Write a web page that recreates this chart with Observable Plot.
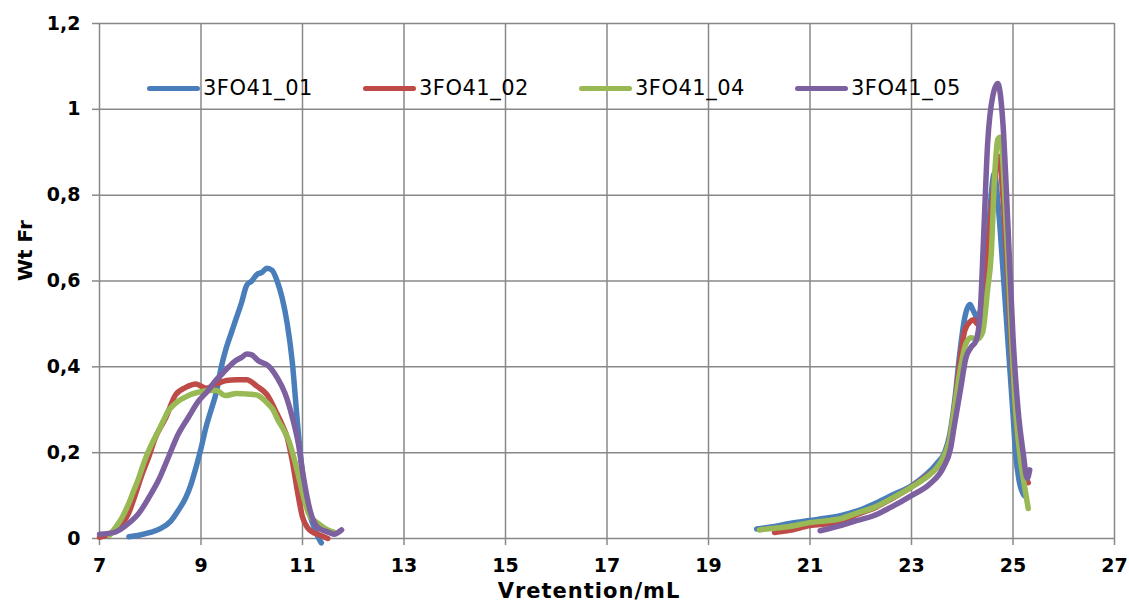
<!DOCTYPE html>
<html>
<head>
<meta charset="utf-8">
<script src="https://cdn.jsdelivr.net/npm/d3@7"></script>
<script src="https://cdn.jsdelivr.net/npm/@observablehq/plot@0.6"></script>
<style>
  html, body { margin: 0; padding: 0; background: #fff; }
  #wrap { position: relative; width: 1129px; height: 603px; font-family: "DejaVu Sans", sans-serif; }
  #legend { position: absolute; left: 147px; top: 76px; display: flex; }
  .item { width: 216px; display: flex; align-items: center; height: 24px; }
  .swatch { width: 53px; height: 5px; border-radius: 3px; margin-right: 3px; }
  .lab { font-size: 21px; color: #000; letter-spacing: 0.5px; }
</style>
</head>
<body>
<div id="wrap"><div id="legend"></div></div>
<script>
// ---- data ----
const seriesNames = ["3FO41_01", "3FO41_02", "3FO41_04", "3FO41_05"];
const seriesColors = ["#4A7EBB", "#BE4B48", "#98B954", "#7D60A0"];
const xTicks = [7, 9, 11, 13, 15, 17, 19, 21, 23, 25, 27];
const yTicks = [0, 0.2, 0.4, 0.6, 0.8, 1, 1.2];
const xLabel = "Vretention/mL";
const yLabel = "Wt Fr";

// 3FO41_01 (blue)
const s01aX = [7.58, 7.8, 8.0, 8.2, 8.4, 8.55, 8.7, 8.8, 8.9, 9.0, 9.1, 9.2, 9.3, 9.4, 9.5, 9.6, 9.7, 9.8, 9.9, 10.0, 10.1, 10.2, 10.3, 10.4, 10.5, 10.6, 10.7, 10.8, 10.9, 11.0, 11.1, 11.2, 11.3, 11.37];
const s01aY = [0.004, 0.008, 0.014, 0.023, 0.04, 0.065, 0.095, 0.125, 0.165, 0.21, 0.26, 0.3, 0.34, 0.4, 0.445, 0.48, 0.515, 0.55, 0.59, 0.6, 0.615, 0.62, 0.63, 0.625, 0.6, 0.56, 0.5, 0.41, 0.27, 0.15, 0.075, 0.035, 0.005, -0.01];
const s01bX = [19.95, 20.3, 20.6, 21.0, 21.3, 21.6, 21.9, 22.25, 22.6, 23.0, 23.3, 23.5, 23.65, 23.75, 23.85, 23.95, 24.05, 24.15, 24.22, 24.3, 24.4, 24.5, 24.57, 24.63, 24.72, 24.8, 24.9, 25.0, 25.05, 25.12, 25.22];
const s01bY = [0.022, 0.028, 0.035, 0.042, 0.047, 0.053, 0.063, 0.08, 0.1, 0.123, 0.15, 0.175, 0.2, 0.24, 0.32, 0.43, 0.515, 0.545, 0.53, 0.515, 0.56, 0.68, 0.8, 0.85, 0.76, 0.63, 0.46, 0.29, 0.2, 0.135, 0.1];

// 3FO41_02 (red)
const s02aX = [7.0, 7.15, 7.3, 7.45, 7.57, 7.7, 7.84, 7.97, 8.1, 8.3, 8.5, 8.7, 8.9, 9.1, 9.3, 9.5, 9.7, 9.9, 10.1, 10.3, 10.5, 10.6, 10.7, 10.8, 10.9, 11.0, 11.1, 11.2, 11.3, 11.4, 11.5];
const s02aY = [0.003, 0.008, 0.018, 0.035, 0.058, 0.1, 0.15, 0.19, 0.235, 0.28, 0.335, 0.352, 0.36, 0.35, 0.36, 0.368, 0.37, 0.37, 0.355, 0.335, 0.29, 0.265, 0.235, 0.18, 0.11, 0.05, 0.025, 0.015, 0.01, 0.005, 0.0];
const s02bX = [20.3, 20.6, 21.0, 21.3, 21.6, 21.9, 22.25, 22.6, 23.0, 23.3, 23.5, 23.65, 23.75, 23.85, 23.95, 24.05, 24.15, 24.22, 24.3, 24.4, 24.5, 24.6, 24.72, 24.8, 24.9, 25.0, 25.1, 25.2, 25.3];
const s02bY = [0.014, 0.019, 0.03, 0.034, 0.038, 0.055, 0.07, 0.092, 0.12, 0.145, 0.165, 0.19, 0.23, 0.31, 0.41, 0.485, 0.505, 0.51, 0.5, 0.55, 0.66, 0.8, 0.89, 0.8, 0.6, 0.38, 0.23, 0.16, 0.13];

// 3FO41_04 (green)
const s04aX = [7.2, 7.31, 7.45, 7.57, 7.67, 7.77, 7.87, 7.97, 8.07, 8.16, 8.26, 8.36, 8.45, 8.55, 8.7, 8.83, 9.0, 9.14, 9.3, 9.48, 9.7, 9.87, 10.0, 10.13, 10.25, 10.32, 10.42, 10.52, 10.62, 10.73, 10.86, 10.99, 11.12, 11.2, 11.31, 11.5, 11.62];
const s04aY = [0.008, 0.025, 0.05, 0.08, 0.11, 0.14, 0.175, 0.205, 0.23, 0.25, 0.275, 0.298, 0.31, 0.32, 0.33, 0.337, 0.342, 0.345, 0.345, 0.333, 0.338, 0.337, 0.336, 0.333, 0.322, 0.314, 0.3, 0.275, 0.255, 0.228, 0.175, 0.112, 0.058, 0.045, 0.035, 0.02, 0.015];
const s04bX = [20.0, 20.3, 20.6, 21.0, 21.3, 21.6, 21.9, 22.25, 22.6, 23.0, 23.37, 23.5, 23.63, 23.75, 23.84, 23.97, 24.07, 24.17, 24.3, 24.4, 24.5, 24.57, 24.64, 24.7, 24.75, 24.85, 24.95, 25.05, 25.15, 25.23, 25.3];
const s04bY = [0.02, 0.024, 0.028, 0.037, 0.041, 0.046, 0.058, 0.072, 0.093, 0.12, 0.15, 0.165, 0.19, 0.23, 0.3, 0.4, 0.453, 0.468, 0.465, 0.48, 0.58, 0.66, 0.85, 0.93, 0.935, 0.77, 0.52, 0.3, 0.18, 0.12, 0.07];

// 3FO41_05 (purple)
const s05aX = [7.0, 7.31, 7.57, 7.77, 7.97, 8.16, 8.36, 8.55, 8.75, 8.95, 9.14, 9.3, 9.42, 9.55, 9.68, 9.8, 9.9, 10.0, 10.13, 10.32, 10.5, 10.66, 10.8, 10.92, 11.02, 11.15, 11.31, 11.5, 11.62, 11.77];
const s05aY = [0.01, 0.015, 0.035, 0.058, 0.095, 0.135, 0.19, 0.243, 0.282, 0.32, 0.345, 0.37, 0.384, 0.4, 0.414, 0.422, 0.43, 0.428, 0.414, 0.403, 0.375, 0.337, 0.282, 0.22, 0.142, 0.065, 0.025, 0.015, 0.01, 0.02];
const s05bX = [21.2, 21.6, 21.93, 22.25, 22.58, 23.0, 23.37, 23.63, 23.77, 23.84, 23.97, 24.07, 24.17, 24.27, 24.35, 24.42, 24.5, 24.6, 24.7, 24.8, 24.9, 25.0, 25.1, 25.2, 25.28, 25.33];
const s05bY = [0.018, 0.03, 0.042, 0.053, 0.072, 0.1, 0.128, 0.166, 0.21, 0.26, 0.35, 0.42, 0.445, 0.46, 0.52, 0.7, 0.92, 1.03, 1.06, 0.97, 0.73, 0.47, 0.3, 0.2, 0.14, 0.16];

// ---- build table ----
const segments = [
  [seriesNames[0], "a", s01aX, s01aY], [seriesNames[0], "b", s01bX, s01bY],
  [seriesNames[1], "a", s02aX, s02aY], [seriesNames[1], "b", s02bX, s02bY],
  [seriesNames[2], "a", s04aX, s04aY], [seriesNames[2], "b", s04bX, s04bY],
  [seriesNames[3], "a", s05aX, s05aY], [seriesNames[3], "b", s05bX, s05bY]
];
const rows = [];
for (const [name, seg, xs, ys] of segments) {
  xs.forEach((v, i) => rows.push({series: name, seg: name + seg, v, w: ys[i]}));
}

const grid = "#888888";
const fmt = d => String(d).replace(".", ",");

const chart = Plot.plot({
  width: 1129,
  height: 603,
  marginLeft: 99,
  marginRight: 15,
  marginTop: 23,
  marginBottom: 65,
  style: {fontFamily: "DejaVu Sans, sans-serif", fontSize: "19px", fontWeight: "bold", color: "#000", background: "#fff"},
  x: {domain: [7, 27]},
  y: {domain: [0, 1.2]},
  color: {domain: seriesNames, range: seriesColors},
  marks: [
    Plot.gridX(xTicks, {stroke: grid, strokeOpacity: 1, strokeWidth: 1.5}),
    Plot.gridY(yTicks, {stroke: grid, strokeOpacity: 1, strokeWidth: 1.5}),
    Plot.axisX(xTicks, {tickSize: 7, tickPadding: 13, stroke: grid, strokeWidth: 1.5, fill: "#000", label: null, tickFormat: fmt}),
    Plot.axisY(yTicks, {tickSize: 7, tickPadding: 12, stroke: grid, strokeWidth: 1.5, fill: "#000", label: null, tickFormat: fmt}),
    Plot.line(rows, {x: "v", y: "w", z: "seg", stroke: "series", strokeWidth: 5.5, curve: "monotone-x", strokeLinecap: "round", strokeLinejoin: "round"}),
    Plot.text([xLabel], {frameAnchor: "bottom", lineAnchor: "middle", dx: -18, dy: 53, text: d => d, fontSize: 21, fontWeight: "bold", fill: "#000", style: "letter-spacing:1px"}),
    Plot.text([yLabel], {frameAnchor: "left", dx: -74, rotate: -90, text: d => d, fontSize: 20, fontWeight: "bold", fill: "#000"})
  ]
});
const wrap = document.getElementById("wrap");
wrap.insertBefore(chart, wrap.firstChild);
// widen the axis title slightly, as in the reference
chart.querySelectorAll("text").forEach(t => { if (t.textContent === xLabel) t.setAttribute("letter-spacing", "1"); });

const legend = document.getElementById("legend");
seriesNames.forEach((n, i) => {
  const it = document.createElement("div");
  it.className = "item";
  const sw = document.createElement("div");
  sw.className = "swatch";
  sw.style.background = seriesColors[i];
  const lb = document.createElement("span");
  lb.className = "lab";
  lb.textContent = n;
  it.appendChild(sw); it.appendChild(lb);
  legend.appendChild(it);
});
</script>
</body>
</html>
